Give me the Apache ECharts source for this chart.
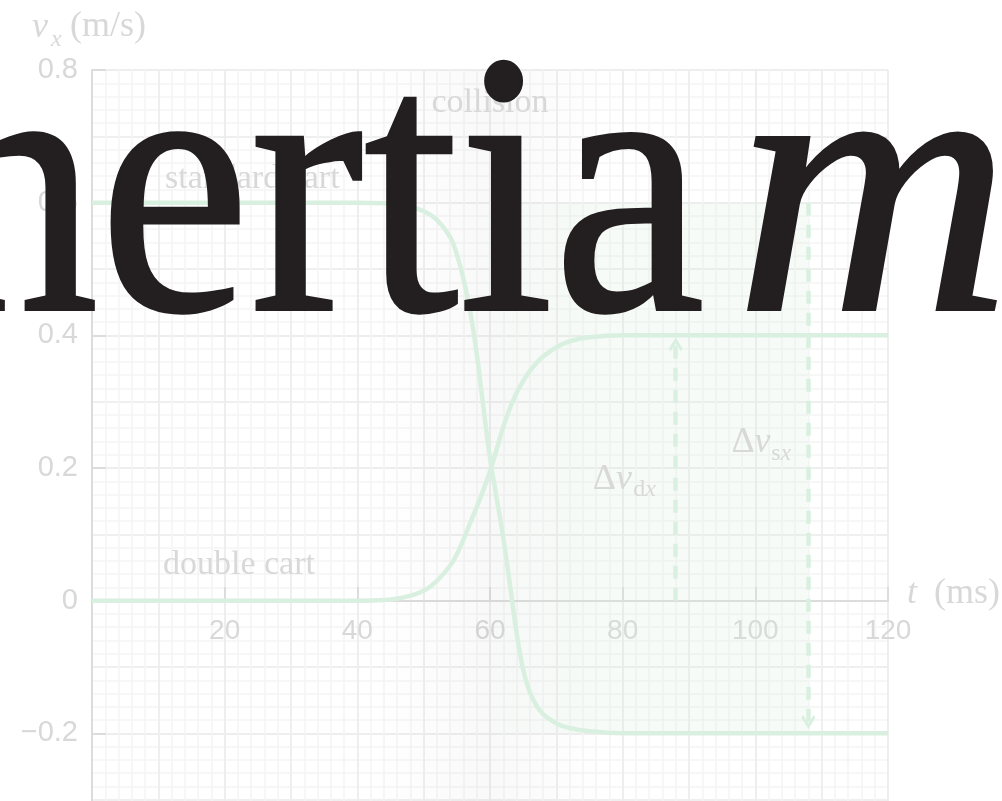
<!DOCTYPE html>
<html>
<head>
<meta charset="utf-8">
<script src="https://cdn.jsdelivr.net/npm/echarts@6/dist/echarts.min.js"></script>
<style>
  html, body { margin: 0; padding: 0; background: #fff; }
  #chart { width: 1002px; height: 801px; }
</style>
</head>
<body>
<div id="chart"></div>
<script>
// data
var timeMs = [0, 40, 44, 47, 50, 52, 54, 55, 56, 57, 58, 59, 60, 61, 62, 63, 64, 65, 66, 67, 68, 70, 72, 75, 80, 120];
var standardCart = [0.6, 0.6, 0.599, 0.596, 0.587, 0.574, 0.548, 0.522, 0.485, 0.437, 0.372, 0.292, 0.215, 0.155, 0.095, 0.025,
  -0.048, -0.104, -0.138, -0.158, -0.171, -0.185, -0.192, -0.197, -0.2, -0.2];
var doubleCart = [0, 0, 0.001, 0.005, 0.015, 0.03, 0.053, 0.07, 0.092, 0.117, 0.141, 0.167, 0.195, 0.228, 0.262, 0.29,
  0.313, 0.331, 0.346, 0.358, 0.368, 0.382, 0.391, 0.397, 0.4, 0.4];
var arrowDvd = [[88, 0], [88, 0.386]];
var arrowDvs = [[108, 0.6], [108, -0.183]];

var chartDom = document.getElementById('chart');
var myChart = echarts.init(chartDom);
var option;

var lineGreen = '#d9f0e1';
var axisGray = '#dcdcdc';
var textGray = '#d8d8d8';
var serif = '"Liberation Serif", "DejaVu Serif", serif';
var sans = '"Liberation Sans", Arial, sans-serif';
var chevron = 'path://M0,0 L10,10 L7.5,12.5 L0,5 L-7.5,12.5 L-10,10 Z';

// plot box: v from -0.4 (below the page) to 0.8, 0 sits 265px above the grid bottom
var gridTop = 70, gridBottom = -65;
var zeroOffset = -265;

function pairs(xs, ys) {
  return xs.map(function (x, i) { return [x, ys[i]]; });
}

option = {
  animation: false,
  backgroundColor: '#fff',
  grid: { left: 92, right: 114, top: gridTop, bottom: gridBottom, containLabel: false, outerBoundsMode: 'none' },
  xAxis: [
    {
      type: 'value', min: 0, max: 120, interval: 20,
      position: 'bottom', offset: zeroOffset,
      axisLine: { show: true, onZero: false, lineStyle: { color: axisGray, width: 2 } },
      axisTick: { show: true, inside: true, length: 14, lineStyle: { color: axisGray, width: 2 } },
      axisLabel: { showMinLabel: false, margin: 16, color: textGray, fontSize: 28, fontFamily: sans },
      splitLine: { show: true, lineStyle: { color: '#ededed', width: 1.5 } },
      minorTick: { show: false, splitNumber: 10 },
      minorSplitLine: { show: true, lineStyle: { color: '#f5f5f5', width: 1.5 } }
    },
    {
      type: 'value', min: 0, max: 120, interval: 10, position: 'top',
      axisLine: { show: false }, axisTick: { show: false }, axisLabel: { show: false },
      splitLine: { show: true, lineStyle: { color: '#ededed', width: 1.5 } }
    }
  ],
  yAxis: [
    {
      type: 'value', min: -0.4, max: 0.8, interval: 0.2,
      axisLine: { show: true, onZero: false, lineStyle: { color: axisGray, width: 2 } },
      axisTick: { show: true, inside: true, length: 14, lineStyle: { color: axisGray, width: 2 } },
      axisLabel: {
        margin: 14, color: textGray, fontSize: 29, fontFamily: sans,
        formatter: function (v) {
          if (Math.abs(v) < 1e-9) return '0';
          return (v < 0 ? '\u2212' : '') + Math.abs(v).toFixed(1);
        }
      },
      splitLine: { show: true, lineStyle: { color: '#ededed', width: 1.5 } },
      minorTick: { show: false, splitNumber: 10 },
      minorSplitLine: { show: true, lineStyle: { color: '#f5f5f5', width: 1.5 } }
    },
    {
      type: 'value', min: -0.4, max: 0.8, interval: 0.1,
      axisLine: { show: false }, axisTick: { show: false }, axisLabel: { show: false },
      splitLine: { show: true, lineStyle: { color: '#ededed', width: 1.5 } }
    }
  ],
  series: [
    {
      name: 'standard cart',
      type: 'line',
      data: pairs(timeMs, standardCart),
      showSymbol: false,
      smooth: 0.4,
      lineStyle: { color: lineGreen, width: 4.5 },
      z: 3,
      markArea: {
        silent: true,
        data: [
          [{
            xAxis: 42,
            itemStyle: {
              color: {
                type: 'linear', x: 0, y: 0, x2: 1, y2: 0,
                colorStops: [
                  { offset: 0, color: 'rgba(0,0,0,0)' },
                  { offset: 0.5, color: 'rgba(0,0,0,0.022)' },
                  { offset: 1, color: 'rgba(0,0,0,0)' }
                ]
              }
            }
          }, { xAxis: 78 }],
          [{
            xAxis: 55, yAxis: 0.6,
            itemStyle: {
              color: {
                type: 'linear', x: 0, y: 0, x2: 1, y2: 0,
                colorStops: [
                  { offset: 0, color: 'rgba(214,236,220,0)' },
                  { offset: 0.35, color: 'rgba(214,236,220,0.2)' },
                  { offset: 1, color: 'rgba(214,236,220,0.2)' }
                ]
              }
            }
          }, { xAxis: 108, yAxis: -0.2 }]
        ]
      }
    },
    {
      name: 'double cart',
      type: 'line',
      data: pairs(timeMs, doubleCart),
      showSymbol: false,
      smooth: 0.4,
      lineStyle: { color: lineGreen, width: 4.5 },
      z: 3
    },
    {
      type: 'lines',
      coordinateSystem: 'cartesian2d',
      symbol: ['none', chevron],
      symbolSize: [22, 14],
      lineStyle: { color: lineGreen, width: 4.5, type: [13, 9], opacity: 1 },
      data: [{ coords: arrowDvd }, { coords: arrowDvs }],
      z: 2
    }
  ]
};

if (option && typeof option === 'object') {
  myChart.setOption(option);
}

// text on top, placed from data coordinates
function at(t, v) {
  return myChart.convertToPixel({ xAxisIndex: 0, yAxisIndex: 0 }, [t, v]);
}
function txt(p, text, size, align, rich, italic) {
  return {
    type: 'text', x: p[0], y: p[1], z: 50,
    style: {
      text: text, fill: textGray, fontSize: size, fontFamily: serif,
      fontStyle: italic ? 'italic' : 'normal',
      align: align, textAlign: align, verticalAlign: 'middle', textVerticalAlign: 'middle',
      rich: rich
    }
  };
}
var richMath = {
  r: { fontFamily: serif, fontSize: 36, color: textGray },
  i: { fontFamily: serif, fontSize: 36, fontStyle: 'italic', color: textGray },
  sr: { fontFamily: serif, fontSize: 24, color: textGray },
  si: { fontFamily: serif, fontSize: 24, fontStyle: 'italic', color: textGray }
};

var graphics = [
  txt(at(60, 0.75), 'collision', 34, 'center'),
  txt(at(11, 0.635), 'standard cart', 34, 'left'),
  txt(at(10.7, 0.053), 'double cart', 34, 'left'),
  txt(at(81.4, 0.182), '{r|\u0394}{i|v}', 36, 'right', richMath),
  txt(at(81.6, 0.167), '{sr|d}{si|x}', 24, 'left', richMath),
  txt(at(102.3, 0.238), '{r|\u0394}{i|v}', 36, 'right', richMath),
  txt(at(102.4, 0.222), '{sr|s}{si|x}', 24, 'left', richMath),
  // axis names
  txt([32, 28], 'v', 36, 'left', null, true),
  txt([51, 40], 'x', 24, 'left', null, true),
  txt([70, 27], '(m/s)', 36, 'left'),
  txt([907, 594], 't', 36, 'left', null, true),
  txt([934, 594], '(ms)', 36, 'left'),
  // big overlay word
  {
    type: 'text', x: -72, y: 211, scaleX: 0.91, z: 100,
    style: {
      text: 'nertia', fill: '#231f20', stroke: '#231f20', lineWidth: 3,
      fontSize: 375, fontFamily: serif,
      align: 'left', textAlign: 'left', verticalAlign: 'middle', textVerticalAlign: 'middle'
    }
  },
  {
    type: 'text', x: 735, y: 211, scaleX: 1.02, z: 100,
    style: {
      text: 'm', fill: '#231f20', stroke: '#231f20', lineWidth: 3,
      fontSize: 375, fontFamily: serif, fontStyle: 'italic',
      align: 'left', textAlign: 'left', verticalAlign: 'middle', textVerticalAlign: 'middle'
    }
  }
];

myChart.setOption({ graphic: graphics });

window.onresize = function () {
  myChart.resize();
};
</script>
</body>
</html>
